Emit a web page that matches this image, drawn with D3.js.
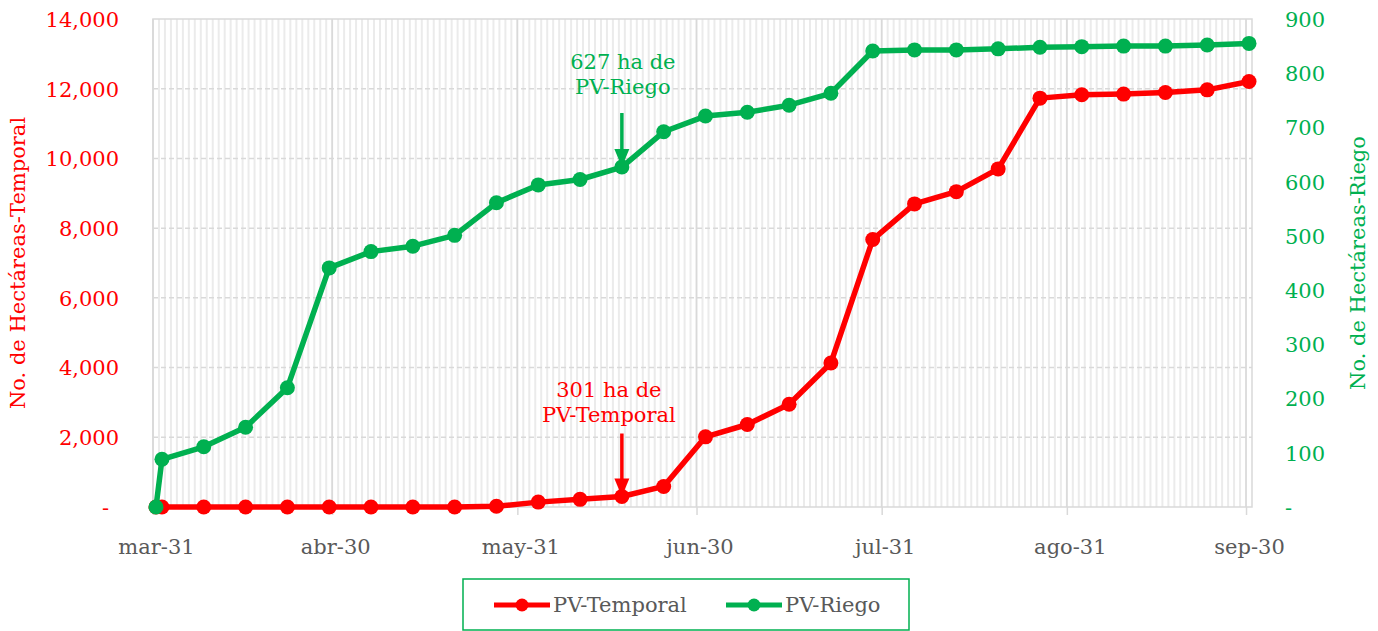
<!DOCTYPE html>
<html><head><meta charset="utf-8">
<script src="https://cdn.jsdelivr.net/npm/d3@7"></script>
<style>
html,body{margin:0;padding:0;background:#fff;}
svg{display:block;font-family:"DejaVu Serif",serif;}
</style></head>
<body><svg id="c" width="1378" height="631"></svg>
<script>
// ---- data ----
const dates = ["2023-03-31","2023-04-01","2023-04-08","2023-04-15","2023-04-22","2023-04-29",
  "2023-05-06","2023-05-13","2023-05-20","2023-05-27","2023-06-03","2023-06-10","2023-06-17",
  "2023-06-24","2023-07-01","2023-07-08","2023-07-15","2023-07-22","2023-07-29","2023-08-05",
  "2023-08-12","2023-08-19","2023-08-26","2023-09-02","2023-09-09","2023-09-16","2023-09-23","2023-09-30"];
const temporal = [0,0,0,0,0,0,0,0,0,20,140,220,301,590,2013,2367,2949,4132,7673,8695,9047,9700,11730,11825,11845,11890,11967,12206];
const riego = [0,88,111,147,220,441,471,481,501,561,594,604,627,692,721,728,741,763,841,843,843,845,848,849,850,850,852,855];
const tickDates = ["2023-03-31","2023-04-30","2023-05-31","2023-06-30","2023-07-31","2023-08-31","2023-09-30"];
const tickLabels = ["mar-31","abr-30","may-31","jun-30","jul-31","ago-31","sep-30"];
const leftTicks = [0,2000,4000,6000,8000,10000,12000,14000];
const rightTicks = [0,100,200,300,400,500,600,700,800,900];
const seriesNames = ["PV-Temporal","PV-Riego"];
const annotDate = "2023-06-17";

// ---- setup ----
const RED = "#ff0000", GREEN = "#00b050", GRID = "#d9d9d9";
const FS = 21;
const L = 153, R = 1252, T = 19, B = 507;
const svg = d3.select("#c");
const parse = d3.utcParse("%Y-%m-%d");
const start = parse("2023-03-31"), end = parse("2023-10-01");
const x = d3.scaleUtc().domain([start, end]).range([L, R]);
const half = 12*3600*1000;
const xc = d => x(new Date(parse(d).getTime() + half));
const yL = d3.scaleLinear().domain([0,14000]).range([B, T]);
const yR = d3.scaleLinear().domain([0,900]).range([B, T]);

// minor daily gridlines
const g = svg.append("g");
g.selectAll("line.minor").data(d3.utcDay.range(start, end)).enter().append("line")
  .attr("x1", d => x(d)).attr("x2", d => x(d)).attr("y1", T).attr("y2", B)
  .attr("stroke", "#ebebeb").attr("stroke-width", 2);
// horizontal dashed gridlines
g.selectAll("line.h").data(leftTicks.filter(v => v > 0 && v < 14000)).enter().append("line")
  .attr("x1", L).attr("x2", R).attr("y1", d => yL(d)).attr("y2", d => yL(d))
  .attr("stroke", GRID).attr("stroke-width", 1.5).attr("stroke-dasharray", "5,3");
// major month gridlines
g.selectAll("line.major").data(tickDates.map(parse)).enter().append("line")
  .attr("x1", d => x(d)).attr("x2", d => x(d)).attr("y1", T).attr("y2", B)
  .attr("stroke", GRID).attr("stroke-width", 1.5);
// plot border
g.append("rect").attr("x", L).attr("y", T).attr("width", R-L).attr("height", B-T)
  .attr("fill", "none").attr("stroke", GRID).attr("stroke-width", 1.5);

// axes
const fmtL = v => v === 0 ? "-" : d3.format(",")(v);
const axL = svg.append("g").attr("transform", `translate(${L},0)`)
  .call(d3.axisLeft(yL).tickValues(leftTicks).tickFormat(fmtL).tickSize(0).tickPadding(34));
axL.select(".domain").remove();
axL.selectAll("text").attr("fill", RED).attr("font-size", FS).attr("font-family", "DejaVu Serif")
  .attr("dy", "0.35em");
axL.selectAll(".tick").filter(d => d === 0).select("text").attr("x", -44);

const axR = svg.append("g").attr("transform", `translate(${R},0)`)
  .call(d3.axisRight(yR).tickValues(rightTicks).tickFormat(v => v === 0 ? "-" : d3.format(",")(v)).tickSize(0).tickPadding(33));
axR.select(".domain").remove();
axR.selectAll("text").attr("fill", GREEN).attr("font-size", FS).attr("font-family", "DejaVu Serif")
  .attr("dy", "0.35em");

const axB = svg.append("g").attr("transform", `translate(0,${B})`)
  .call(d3.axisBottom(x).tickValues(tickDates.map(parse)).tickFormat((d,i) => tickLabels[i]).tickSize(8).tickPadding(0));
axB.select(".domain").remove();
axB.selectAll("line").attr("stroke", GRID).attr("stroke-width", 1.5);
axB.selectAll("text").attr("fill", "#595959").attr("font-size", FS).attr("font-family", "DejaVu Serif")
  .attr("x", 3).attr("y", 47).attr("dy", 0);

// axis titles
svg.append("text").attr("transform", `translate(25,${(T+B)/2}) rotate(-90)`)
  .attr("text-anchor", "middle").attr("fill", RED).attr("font-size", FS)
  .text("No. de Hectáreas-Temporal");
svg.append("text").attr("transform", `translate(1365,${(T+B)/2}) rotate(-90)`)
  .attr("text-anchor", "middle").attr("fill", GREEN).attr("font-size", FS)
  .text("No. de Hectáreas-Riego");

// series
const lineL = d3.line().x((d,i) => xc(dates[i])).y(d => yL(d));
const lineR = d3.line().x((d,i) => xc(dates[i])).y(d => yR(d));
svg.append("path").datum(temporal).attr("d", lineL).attr("fill", "none")
  .attr("stroke", RED).attr("stroke-width", 5.5).attr("stroke-linejoin", "round");
svg.selectAll("circle.t").data(temporal).enter().append("circle")
  .attr("cx", (d,i) => xc(dates[i])).attr("cy", d => yL(d)).attr("r", 7.5).attr("fill", RED);
svg.append("path").datum(riego).attr("d", lineR).attr("fill", "none")
  .attr("stroke", GREEN).attr("stroke-width", 5.5).attr("stroke-linejoin", "round");
svg.selectAll("circle.r").data(riego).enter().append("circle")
  .attr("cx", (d,i) => xc(dates[i])).attr("cy", d => yR(d)).attr("r", 7.5).attr("fill", GREEN);

// annotations
const ai = dates.indexOf(annotDate);
const ax = xc(annotDate);
function arrow(xp, y1, y2, color){
  svg.append("line").attr("x1", xp).attr("x2", xp).attr("y1", y1).attr("y2", y2 - 14)
    .attr("stroke", color).attr("stroke-width", 3.5);
  svg.append("path").attr("d", `M${xp-7.5},${y2-18} L${xp+7.5},${y2-18} L${xp},${y2} Z`).attr("fill", color);
}
const gy = yR(riego[ai]);
arrow(ax, gy - 54, gy, GREEN);
svg.append("text").attr("x", ax + 1).attr("y", gy - 98).attr("text-anchor", "middle")
  .attr("fill", GREEN).attr("font-size", FS).text(`${riego[ai]} ha de`);
svg.append("text").attr("x", ax + 1).attr("y", gy - 73).attr("text-anchor", "middle")
  .attr("fill", GREEN).attr("font-size", FS).text(seriesNames[1]);
const ry = yL(temporal[ai]);
arrow(ax, ry - 63, ry, RED);
svg.append("text").attr("x", ax - 13).attr("y", ry - 100).attr("text-anchor", "middle")
  .attr("fill", RED).attr("font-size", FS).text(`${temporal[ai]} ha de`);
svg.append("text").attr("x", ax - 13).attr("y", ry - 75).attr("text-anchor", "middle")
  .attr("fill", RED).attr("font-size", FS).text(seriesNames[0]);

// legend
const lg = svg.append("g");
lg.append("rect").attr("x", 463).attr("y", 579).attr("width", 446).attr("height", 51)
  .attr("fill", "#fff").attr("stroke", GREEN).attr("stroke-width", 1.5);
const items = [{name: seriesNames[0], color: RED, x0: 494}, {name: seriesNames[1], color: GREEN, x0: 726}];
items.forEach(it => {
  lg.append("line").attr("x1", it.x0).attr("x2", it.x0 + 56).attr("y1", 605).attr("y2", 605)
    .attr("stroke", it.color).attr("stroke-width", 5);
  lg.append("circle").attr("cx", it.x0 + 28).attr("cy", 605).attr("r", 6.5).attr("fill", it.color);
  lg.append("text").attr("x", it.x0 + 59).attr("y", 612).attr("fill", "#595959").attr("font-size", FS).text(it.name);
});
</script></body></html>
